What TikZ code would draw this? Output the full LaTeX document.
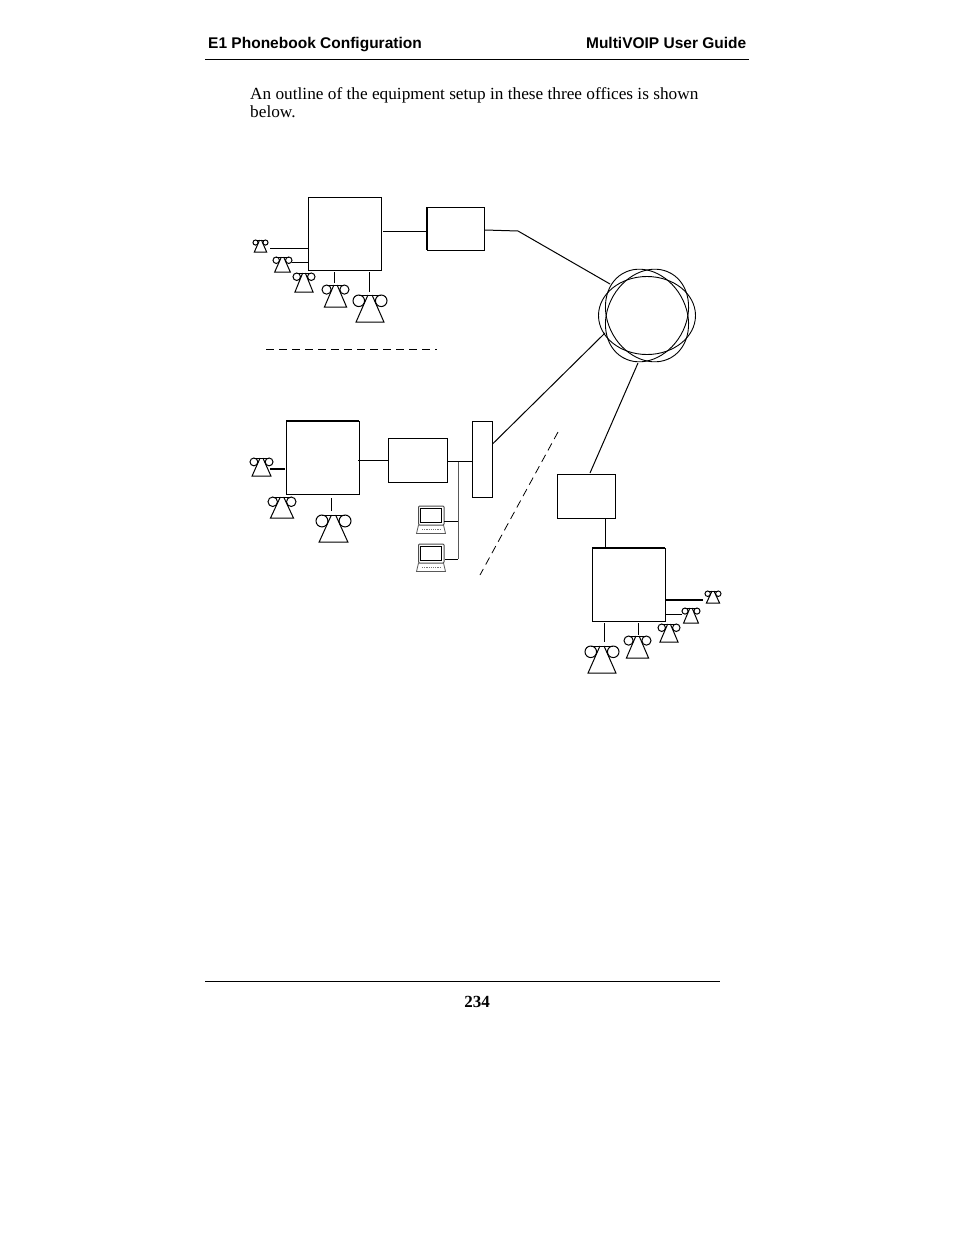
\documentclass[tikz,border=0pt]{standalone}
\usepackage{fontspec}
\setmainfont{Liberation Serif}
\newfontfamily\headfont{Liberation Sans}[Scale=1]
\newfontfamily\bodywide{Liberation Serif}[FakeStretch=1.016]
\usetikzlibrary{calc}
\tikzset{
  ln/.style={line width=1pt,black},
  boxn/.style={draw=black,line width=1pt,inner sep=0pt,outer sep=0pt,fill=white},
  thickline/.style={line width=1.8pt,black},
  head/.style={anchor=base,inner sep=0pt,font=\headfont\bfseries\fontsize{15.5}{18}\selectfont},
  bodytxt/.style={anchor=base west,inner sep=0pt,font=\bodywide\fontsize{17}{20}\selectfont},
  phs/.style={line width=1pt},
}
% name, left, top, right, bottom
\newcommand{\phn}[5]{%
  \node[inner sep=0pt,outer sep=0pt,minimum width={#4-#2},minimum height={#5-#3}] (#1) at ({(#2+#4)/2},{(#3+#5)/2}) {};
  \pgfmathsetmacro{\pw}{#4-#2}\pgfmathsetmacro{\ph}{#5-#3}\pgfmathsetmacro{\pr}{0.17*\pw}
  \draw[phs] ($(#1.north west)+(\pr,\pr)$) circle[radius=\pr];
  \draw[phs] ($(#1.north east)+(-\pr,\pr)$) circle[radius=\pr];
  \draw[phs] ($(#1.north west)+(\pr,0)$) -- ($(#1.north east)+(-\pr,0)$);
  \draw[phs,line join=miter] ($(#1.north)+(-0.06*\pw,0)$) -- ($(#1.south west)+(0.09*\pw,0)$) -- ($(#1.south east)+(-0.09*\pw,0)$) -- ($(#1.north)+(0.06*\pw,0)$);
}
% name, left, top
\newcommand{\lap}[3]{%
  \node[inner sep=0pt,outer sep=0pt,minimum width=30,minimum height=28] (#1) at ({#2+15},{#3+14}) {};
  \begin{scope}[shift={(#2,#3)}]
    \draw[line width=1pt,black!70,rounded corners=1pt] (2.5,0) rectangle (28,19);
    \draw[line width=0.9pt,black] (4.5,2) rectangle (25.5,16.5);
    \draw[line width=0.8pt,black!65] (2.5,19) -- (0.5,27.5) -- (29.5,27.5) -- (27.5,19);
    \draw[line width=1.2pt,black!55,dash pattern=on 1.2pt off 1pt] (6,23.5) -- (25,23.5);
  \end{scope}
}
\begin{document}
\begin{tikzpicture}[x=1pt,y=-1pt]
\useasboundingbox[fill=white] (0,0) rectangle (954,1235);
% header and footer
\node[head] (h1) at (315,48) {E1 Phonebook Configuration};
\node[head,anchor=base east] (h2) at (746.5,48) {MultiVOIP User Guide};
\draw[line width=1pt] (205,59.5) -- (749,59.5);
\draw[line width=1pt] (205,981.5) -- (720,981.5);
\node[bodytxt] (t1) at (250,99) {An outline of the equipment setup in these three offices is shown};
\node[bodytxt] (t2) at (250,117) {below.};
\node[anchor=base,inner sep=0pt,font=\bfseries\fontsize{17}{20}\selectfont] (pg) at (477,1007) {234};
% cloud
\coordinate (cl) at (647,315.5);
\foreach \a in {0,60,120}
  \draw[line width=0.9pt,rotate around={\a:(cl)}] (cl) ellipse[x radius=48.5,y radius=39];
% boxes
\node[boxn,minimum width=73,minimum height=73] (B1) at (344.5,233.5) {};
\node[boxn,minimum width=57,minimum height=43] (M1) at (455.5,228.5) {};
\draw[line width=1.6pt] (M1.north west) -- (M1.south west);
\node[boxn,minimum width=73,minimum height=73] (B2) at (322.5,457.5) {};
\draw[thickline] (B2.north west) -- (B2.north east);
\node[boxn,minimum width=59,minimum height=44] (M2) at (417.5,460) {};
\node[boxn,minimum width=20,minimum height=76] (HB) at (482,459) {};
\node[boxn,minimum width=58,minimum height=44] (M3) at (586,496) {};
\node[boxn,minimum width=73,minimum height=73] (B3) at (628.5,584.5) {};
\draw[thickline] (B3.north west) -- (B3.north east);
% office 1
\phn{P1}{253}{240}{268}{252}
\phn{P2}{273}{257}{292}{272}
\phn{P3}{293}{273}{315}{292}
\phn{P4}{322}{285}{349}{307}
\phn{P5}{353}{295}{387}{322}
\coordinate (a1) at (270,248);
\coordinate (a2) at (292,262);
\coordinate (a3) at (334,283);
\coordinate (a4) at (369,292);
\coordinate (a5) at (383,231);
\coordinate (w1) at (518,231);
\coordinate (w2) at (610,284);
\draw[ln] (a1) -- (B1.west |- a1);
\draw[ln] (a2) -- (B1.west |- a2);
\draw[ln] (a3) -- ($(B1.south -| a3)+(0,2)$);
\draw[ln] (a4) -- ($(B1.south -| a4)+(0,2)$);
\draw[ln] (a5) -- (M1.west |- a5);
\coordinate (m1e) at (485,230);
\draw[ln] (m1e) -- (w1) -- (w2);
\coordinate (d1) at (266,349);
\coordinate (d2) at (437,349);
\draw[line width=0.8pt,dash pattern=on 8pt off 5pt] (d1) -- (d2);
% office 2
\phn{P6}{250}{458}{273}{476}
\phn{P7}{268}{497}{296}{518}
\phn{P8}{316}{515}{351}{542}
\coordinate (b1) at (270,469);
\coordinate (b2) at (331,511);
\coordinate (b3) at (331,498);
\draw[line width=1.8pt] (b1) -- ($(B2.west |- b1)+(-1,0)$);
\draw[ln] (b2) -- (b3);
\coordinate (b4) at (358,460);
\draw[ln] (b4) -- (M2.west |- b4);
\coordinate (j1) at (458,461.5);
\coordinate (j2) at (458,559);
\draw[ln] (M2.east |- j1) -- (HB.west |- j1);
\lap{L1}{416}{506}
\lap{L2}{416}{544}
\coordinate (k1) at (444,521);
\coordinate (k2) at (445,559);
\draw[line width=1pt,black!65] (j1) -- (j2);
\draw[ln] (k1) -- (j1 |- k1);
\draw[ln] (k2) -- (j2);
\coordinate (h1e) at (492.5,444);
\coordinate (c2) at (605,333);
\draw[ln] (h1e) -- (c2);
\coordinate (c3) at (638,363);
\coordinate (m3t) at (590,473);
\draw[ln] (c3) -- (m3t);
\coordinate (e1) at (558,432);
\coordinate (e2) at (480,575);
\draw[line width=0.8pt,dash pattern=on 8pt off 5pt] (e1) -- (e2);
% office 3
\coordinate (m3b) at (605,518);
\draw[ln] (m3b) -- (B3.north -| m3b);
\phn{P9}{705}{591}{721}{603}
\phn{P10}{682}{608}{700}{623}
\phn{P11}{658}{624}{680}{642}
\phn{P12}{624}{636}{651}{658}
\phn{P13}{585}{646}{619}{673}
\coordinate (f1) at (703,600);
\coordinate (f2) at (682,614);
\coordinate (f3) at (638,635);
\coordinate (f4) at (604,642);
\draw[line width=1.8pt] (B3.east |- f1) -- (f1);
\draw[ln] (B3.east |- f2) -- (f2);
\draw[ln] ($(B3.south -| f3)+(0,2)$) -- (f3);
\draw[ln] ($(B3.south -| f4)+(0,2)$) -- (f4);
\end{tikzpicture}
\end{document}
